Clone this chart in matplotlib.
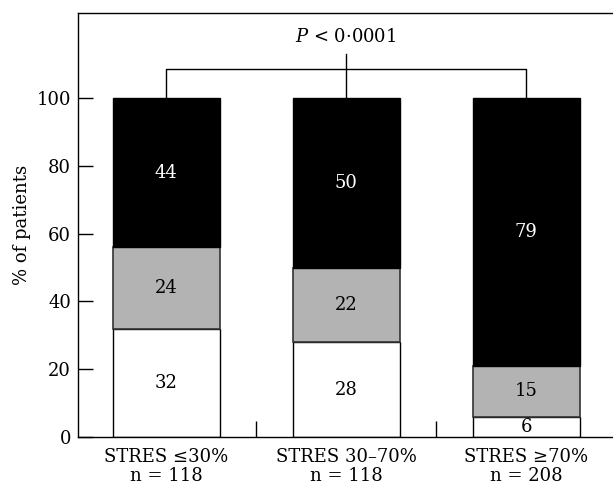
import matplotlib
matplotlib.use('Agg')
import matplotlib.pyplot as plt
from matplotlib.ticker import FixedLocator

groups = ['STRES \u226430%\nn = 118', 'STRES 30\u201370%\nn = 118', 'STRES \u226570%\nn = 208']
white_vals = [32, 28, 6]
grey_vals = [24, 22, 15]
black_vals = [44, 50, 79]
p_text = '$P$ < 0\u00b70001'

plt.rcParams['font.family'] = 'DejaVu Serif'
plt.rcParams['mathtext.fontset'] = 'dejavuserif'
plt.rcParams['font.size'] = 13

fig = plt.figure(figsize=(6.13, 4.87), dpi=100)
ax = fig.add_axes([0.127, 0.1027, 0.893, 0.870])

x = list(range(len(groups)))
w = 0.594
ax.bar(x, white_vals, w, color='white', edgecolor='black', linewidth=1)
ax.bar(x, grey_vals, w, bottom=white_vals, color='#b3b3b3', edgecolor='#333333', linewidth=1.2)
bottoms = [a + b for a, b in zip(white_vals, grey_vals)]
ax.bar(x, black_vals, w, bottom=bottoms, color='black', edgecolor='black', linewidth=1)

# segment labels
for i in x:
    ax.text(i, white_vals[i] / 2, str(white_vals[i]), ha='center', va='center', color='black')
    ax.text(i, white_vals[i] + grey_vals[i] / 2, str(grey_vals[i]), ha='center', va='center', color='black')
    ax.text(i, bottoms[i] + black_vals[i] / 2, str(black_vals[i]), ha='center', va='center', color='white')

# significance bracket
top = 100
ax.plot([0, 0, 2, 2], [top, 108.7, 108.7, top], color='black', linewidth=1)
ax.plot([1, 1], [top, 113.1], color='black', linewidth=1)
ax.text(1, 118, p_text, ha='center', va='center')

ax.set_xlim(-0.49, 2.55)
ax.set_ylim(0, 125)
ax.set_yticks([0, 20, 40, 60, 80, 100])
ax.set_xticks(x)
ax.set_xticklabels(groups, linespacing=1.05)
ax.xaxis.set_minor_locator(FixedLocator([0.5, 1.5]))
ax.tick_params(axis='y', direction='in', length=11, width=1, pad=5)
ax.tick_params(axis='x', which='major', length=0, pad=8)
ax.tick_params(axis='x', which='minor', direction='in', length=11.5, width=1)
ax.set_ylabel('% of patients', labelpad=4)
for s in ax.spines.values():
    s.set_linewidth(1)

fig.savefig('out.png', dpi=100)
